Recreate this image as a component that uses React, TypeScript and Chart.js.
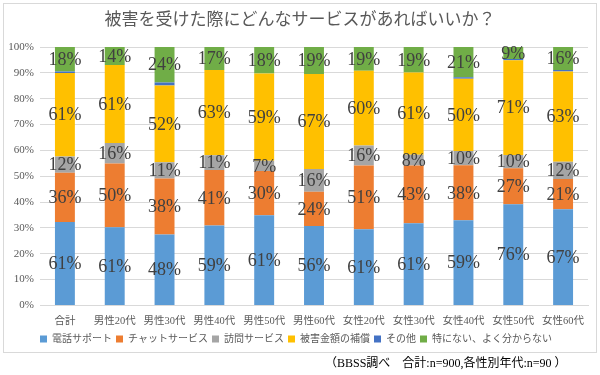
import React, { useEffect, useRef } from "react";
import { Chart, registerables } from "chart.js";

Chart.register(...registerables);

const categories = ["合計", "男性20代", "男性30代", "男性40代", "男性50代", "男性60代", "女性20代", "女性30代", "女性40代", "女性50代", "女性60代"];
const seriesNames = ["電話サポート", "チャットサービス", "訪問サービス", "被害金額の補償", "その他", "特にない、よく分からない"];
const phoneSupport = [61, 61, 48, 59, 61, 56, 61, 61, 59, 76, 67];
const chatService = [36, 50, 38, 41, 30, 24, 51, 43, 38, 27, 21];
const visitService = [12, 16, 11, 11, 7, 16, 16, 8, 10, 10, 12];
const compensation = [61, 61, 52, 63, 59, 67, 60, 61, 50, 71, 63];
const others = [1, 0, 2, 0, 0, 0, 0, 0, 1, 1, 1];
const nothing = [18, 14, 24, 17, 18, 19, 19, 19, 21, 9, 16];
const seriesColors = ["#5B9BD5", "#ED7D31", "#A5A5A5", "#FFC000", "#4472C4", "#70AD47"];
const yTicks = [0, 10, 20, 30, 40, 50, 60, 70, 80, 90, 100];
const titleText = "被害を受けた際にどんなサービスがあればいいか？";
const footnoteText = "（BBSS調べ　合計:n=900,各性別年代:n=90 ）";

const SERIF = "'Liberation Serif', 'DejaVu Serif', 'Noto Sans CJK JP', serif";
const JP = "'Liberation Serif', 'Noto Sans CJK JP', sans-serif";

export default function App() {
  const ref = useRef<HTMLCanvasElement | null>(null);
  useEffect(() => {
    const raw = [phoneSupport, chatService, visitService, compensation, others, nothing];
    const totals = categories.map((_, i) => raw.reduce((s, arr) => s + arr[i], 0));
    const decor = {
      id: "decor",
      beforeDraw(chart: any) {
        const ctx = chart.ctx;
        ctx.save();
        ctx.fillStyle = "#ffffff";
        ctx.fillRect(0, 0, chart.width, chart.height);
        ctx.strokeStyle = "#d9d9d9";
        ctx.lineWidth = 1;
        ctx.strokeRect(3.5, 3.5, 593, 349);
        ctx.fillStyle = "#595959";
        ctx.font = "17px " + JP;
        ctx.textAlign = "center";
        ctx.textBaseline = "middle";
        ctx.fillText(titleText, 300, 21);
        ctx.fillStyle = "#000000";
        ctx.font = "12px " + JP;
        ctx.textAlign = "left";
        ctx.fillText(footnoteText, 325, 364);
        ctx.restore();
      },
      afterDatasetsDraw(chart: any) {
        const ctx = chart.ctx;
        ctx.save();
        ctx.font = "18px " + SERIF;
        ctx.fillStyle = "#404040";
        ctx.textAlign = "center";
        ctx.textBaseline = "middle";
        chart.data.datasets.forEach((ds: any, di: number) => {
          if (di === 4) return;
          const meta = chart.getDatasetMeta(di);
          meta.data.forEach((el: any, i: number) => {
            const v = raw[di][i];
            if (!v) return;
            const y = (el.y + el.base) / 2;
            ctx.fillText(v + "%", el.x, y + 1);
          });
        });
        ctx.restore();
      },
    };
    const chart = new Chart(ref.current as HTMLCanvasElement, {
      type: "bar",
      data: {
        labels: categories,
        datasets: raw.map((arr, di) => ({
          label: seriesNames[di],
          data: arr.map((v, i) => (v / totals[i]) * 100),
          backgroundColor: seriesColors[di],
          borderWidth: 0,
          categoryPercentage: 0.8,
          barPercentage: 0.5,
        })),
      },
      options: {
        animation: false,
        responsive: false,
        maintainAspectRatio: false,
        layout: { padding: { top: 47, left: 4, right: 12, bottom: 21 } },
        plugins: {
          title: { display: false },
          tooltip: { enabled: false },
          legend: {
            position: "bottom",
            labels: {
              boxWidth: 7,
              boxHeight: 7,
              padding: 4,
              color: "#595959",
              font: { size: 10, family: JP },
            },
          },
        },
        scales: {
          x: {
            stacked: true,
            grid: { display: false },
            border: { color: "#d9d9d9" },
            ticks: { color: "#595959", font: { size: 10.5, family: JP }, maxRotation: 0, padding: 2 },
          },
          y: {
            stacked: true,
            min: 0,
            max: 100,
            afterBuildTicks(scale: any) {
              scale.ticks = yTicks.map((v) => ({ value: v }));
            },
            afterFit(scale: any) {
              scale.width = 36;
            },
            grid: { color: "#d9d9d9", drawTicks: false },
            border: { display: false },
            ticks: {
              color: "#595959",
              font: { size: 11, family: SERIF },
              padding: 6,
              callback: (v: any) => v + "%",
            },
          },
        },
      },
      plugins: [decor],
    });
    return () => chart.destroy();
  }, []);
  return (
    <div style={{ position: "absolute", left: 0, top: 0, width: 600, height: 375 }}>
      <canvas ref={ref} width={600} height={375} style={{ width: 600, height: 375 }} />
    </div>
  );
}
